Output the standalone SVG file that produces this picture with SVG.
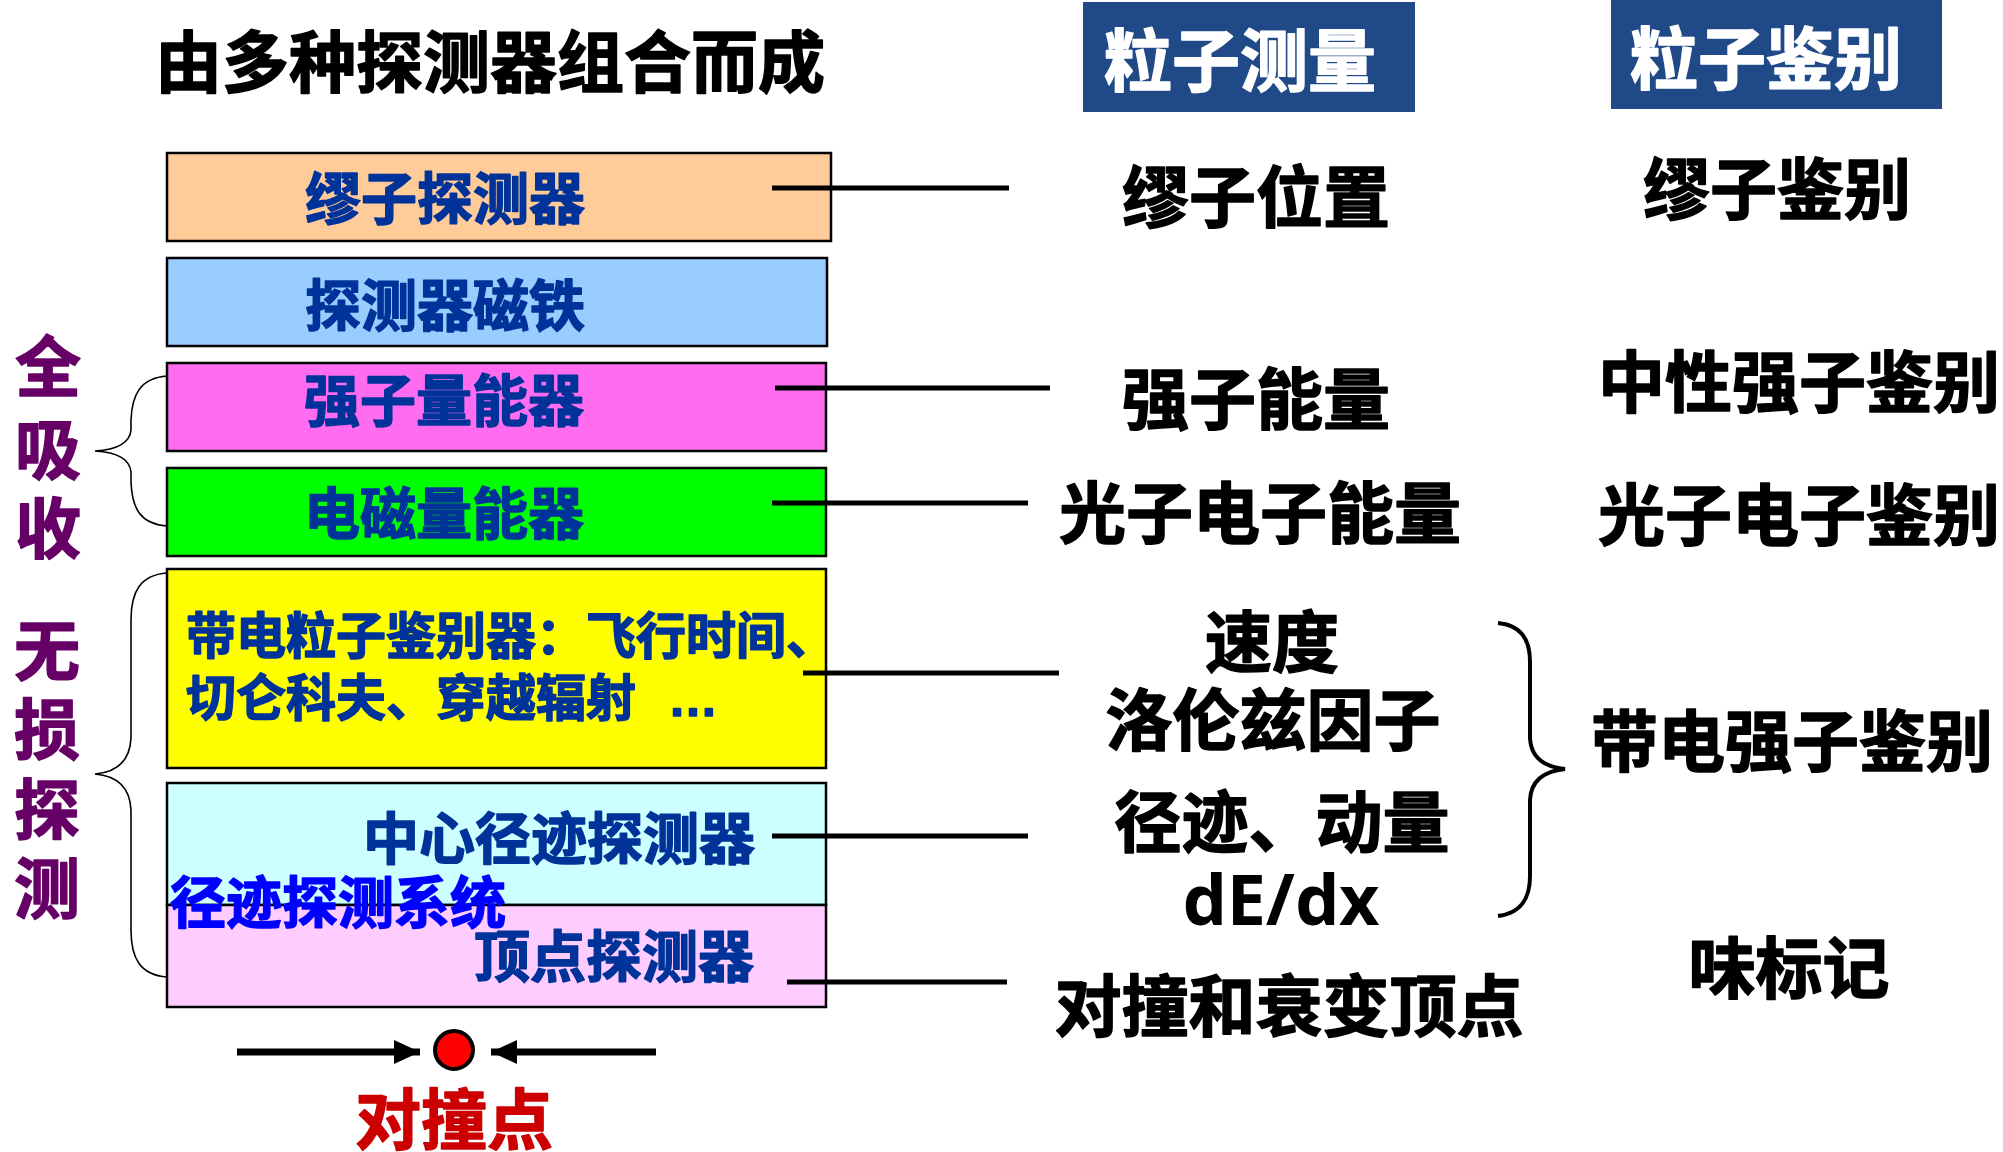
<svg xmlns="http://www.w3.org/2000/svg" width="2003" height="1152" viewBox="0 0 2003 1152">
<style>
.cjk{font-family:"Noto Sans CJK SC","Noto Sans",sans-serif;font-weight:700;stroke-width:1.5;stroke-linejoin:round}
.title{font-size:67px;fill:#000;stroke:#000;text-anchor:middle}
.hdr{font-size:68px;fill:#fff;stroke:#fff;text-anchor:middle}
.box{stroke:#000;stroke-width:2.5}
.lbl{font-size:56px;fill:#003399;stroke:#003399}
.side{font-size:66px;fill:#660066;stroke:#660066;text-anchor:middle}
.meas{font-size:67px;fill:#000;stroke:#000;text-anchor:middle}
.conn{stroke:#000;stroke-width:5;fill:none}
.brace{stroke:#000;stroke-width:1.6;fill:none}
</style>
<defs>
<marker id="ah" markerWidth="26" markerHeight="24" refX="26" refY="12" orient="auto" markerUnits="userSpaceOnUse">
<path d="M0,0 L26,12 L0,24 Z" fill="#000"/>
</marker>
</defs>
<rect width="2003" height="1152" fill="#fff"/>

<g id="title"><text class="cjk title" x="490" y="87">由多种探测器组合而成</text></g>

<g id="header-measure">
<rect x="1083" y="2" width="332" height="110" fill="#1F4A87"/>
<text class="cjk hdr" x="1240" y="86">粒子测量</text>
</g>
<g id="header-id">
<rect x="1611" y="0" width="331" height="109" fill="#1F4A87"/>
<text class="cjk hdr" x="1766" y="84">粒子鉴别</text>
</g>

<g id="muon-detector">
<rect class="box" x="167" y="153" width="664" height="88" fill="#FFCC99"/>
<text class="cjk lbl" x="445" y="219" text-anchor="middle">缪子探测器</text>
</g>
<g id="magnet">
<rect class="box" x="167" y="258" width="660" height="88" fill="#99CCFF"/>
<text class="cjk lbl" x="445" y="326" text-anchor="middle">探测器磁铁</text>
</g>
<g id="hcal">
<rect class="box" x="167" y="363" width="659" height="88" fill="#FF6CF0"/>
<text class="cjk lbl" x="444" y="421" text-anchor="middle">强子量能器</text>
</g>
<g id="ecal">
<rect class="box" x="167" y="468" width="659" height="88" fill="#00FF00"/>
<text class="cjk lbl" x="444" y="534" text-anchor="middle">电磁量能器</text>
</g>
<g id="pid">
<rect class="box" x="167" y="569" width="659" height="199" fill="#FFFF00"/>
<text class="cjk lbl" style="font-size:50px" x="186" y="654">带电粒子鉴别器：飞行时间、</text>
<text class="cjk lbl" style="font-size:50px" x="186" y="716">切仑科夫、穿越辐射<tspan x="668" font-family="Liberation Sans">…</tspan></text>
</g>
<g id="tracker">
<rect class="box" x="167" y="783" width="659" height="122" fill="#CCFFFF"/>
<text class="cjk lbl" x="559" y="859" text-anchor="middle">中心径迹探测器</text>
</g>
<g id="vertex">
<rect class="box" x="167" y="905" width="659" height="102" fill="#FFCCFF"/>
<text class="cjk lbl" x="614" y="977" text-anchor="middle">顶点探测器</text>
</g>
<g id="tracking-system">
<text class="cjk lbl" x="338" y="923" text-anchor="middle" style="fill:#0000FF;stroke:#0000FF">径迹探测系统</text>
</g>

<g id="side-labels">
<text class="cjk side" x="48" y="391">全</text>
<text class="cjk side" x="48" y="474">吸</text>
<text class="cjk side" x="48" y="553">收</text>
<text class="cjk side" x="47" y="675">无</text>
<text class="cjk side" x="47" y="754">损</text>
<text class="cjk side" x="47" y="834">探</text>
<text class="cjk side" x="47" y="913">测</text>
</g>

<g id="measurements">
<text class="cjk meas" x="1256" y="222">缪子位置</text>
<text class="cjk meas" x="1256" y="424">强子能量</text>
<text class="cjk meas" x="1260" y="538">光子电子能量</text>
<text class="cjk meas" x="1272" y="667">速度</text>
<text class="cjk meas" x="1273" y="745">洛伦兹因子</text>
<text class="cjk meas" x="1282" y="847">径迹、动量</text>
<text x="1281" y="925" text-anchor="middle" font-family="Noto Sans, sans-serif" font-weight="700" font-size="70">dE/dx</text>
<text class="cjk meas" x="1289" y="1031">对撞和衰变顶点</text>
</g>

<g id="identification">
<text class="cjk meas" x="1777" y="214">缪子鉴别</text>
<text class="cjk meas" x="1799" y="407">中性强子鉴别</text>
<text class="cjk meas" x="1799" y="540">光子电子鉴别</text>
<text class="cjk meas" x="1792" y="766">带电强子鉴别</text>
<text class="cjk meas" x="1789" y="993">味标记</text>
</g>

<g id="connectors">
<line class="conn" x1="772" y1="188" x2="1009" y2="188"/>
<line class="conn" x1="775" y1="388" x2="1050" y2="388"/>
<line class="conn" x1="772" y1="503" x2="1028" y2="503"/>
<line class="conn" x1="803" y1="673" x2="1059" y2="673"/>
<line class="conn" x1="772" y1="836" x2="1028" y2="836"/>
<line class="conn" x1="787" y1="982" x2="1007" y2="982"/>
<path class="brace" d="M167,376 C140,378 132,395 131,420 L131,430 C130,442 118,450 95,451 C118,452 130,460 131,472 L131,482 C132,508 140,524 167,526"/>
<path class="brace" d="M167,573 C140,575 131,592 131,620 L131,738 C130,760 118,772 95,774 C118,776 130,788 131,810 L131,930 C131,958 140,975 167,977"/>
<path d="M1498,623 C1520,625 1530,638 1530,662 L1530,738 C1531,758 1545,767 1565,769 C1545,771 1531,780 1530,800 L1530,876 C1530,900 1520,913 1498,916" fill="none" stroke="#000" stroke-width="4"/>
<line x1="237" y1="1052" x2="420" y2="1052" stroke="#000" stroke-width="7" marker-end="url(#ah)"/>
<line x1="656" y1="1052" x2="491" y2="1052" stroke="#000" stroke-width="7" marker-end="url(#ah)"/>
</g>

<g id="collision-point">
<circle cx="454" cy="1050" r="19" fill="#FF0000" stroke="#000" stroke-width="4"/>
<text class="cjk" x="454" y="1144" text-anchor="middle" font-size="66" fill="#CC0000" stroke="#CC0000">对撞点</text>
</g>
</svg>
